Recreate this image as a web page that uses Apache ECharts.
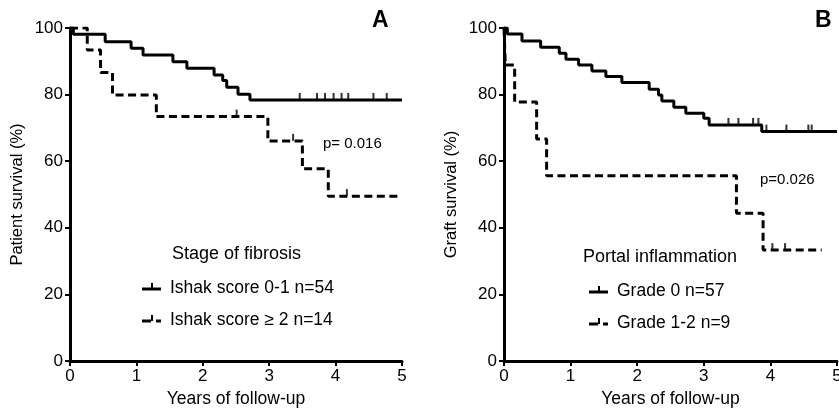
<!DOCTYPE html>
<html><head><meta charset="utf-8">
<script src="https://cdn.jsdelivr.net/npm/echarts@6/dist/echarts.min.js"></script>
<style>html,body{margin:0;padding:0;background:#fff}#c{width:839px;height:411px}</style>
</head><body><div id="c"></div>
<script>
// ---- data ----
const xTicks = [0, 1, 2, 3, 4, 5];
const yTicks = [0, 20, 40, 60, 80, 100];

// Panel A: Stage of fibrosis
const fibLowTimes = [0, 0.05, 0.53, 0.92, 1.10, 1.55, 1.76, 2.17, 2.30, 2.36, 2.53, 2.71, 5.0];
const fibLowSurv  = [100, 98.1, 95.9, 93.9, 91.9, 89.9, 87.9, 85.9, 84.2, 82.2, 80.1, 78.4, 78.4];
const fibLowCensorTimes = [3.46, 3.72, 3.84, 3.97, 4.09, 4.19, 4.57, 4.77];
const fibLowCensorSurv  = [78.4, 78.4, 78.4, 78.4, 78.4, 78.4, 78.4, 78.4];

const fibHighTimes = [0, 0.26, 0.46, 0.64, 1.30, 2.98, 3.50, 3.89, 4.94];
const fibHighSurv  = [100, 93.4, 86.6, 79.9, 73.4, 66.1, 57.7, 49.5, 49.5];
const fibHighCensorTimes = [2.51, 3.36, 4.17];
const fibHighCensorSurv  = [73.4, 66.1, 49.5];

// Panel B: Portal inflammation
const grade0Times = [0, 0.05, 0.27, 0.55, 0.83, 0.93, 1.12, 1.32, 1.53, 1.77, 2.18, 2.32, 2.37, 2.55, 2.73, 3.00, 3.08, 3.87, 5.0];
const grade0Surv  = [100, 98.2, 96.1, 94.2, 92.4, 90.6, 88.9, 87.1, 85.4, 83.6, 81.6, 79.9, 78.1, 76.2, 74.4, 72.9, 70.9, 68.9, 68.9];
const grade0CensorTimes = [3.37, 3.52, 3.74, 3.82, 3.94, 4.24, 4.57, 4.62];
const grade0CensorSurv  = [70.9, 70.9, 70.9, 70.9, 68.9, 68.9, 68.9, 68.9];

const grade12Times = [0, 0.02, 0.16, 0.49, 0.64, 3.49, 3.89, 4.77];
const grade12Surv  = [100, 88.9, 77.8, 66.7, 55.6, 44.4, 33.3, 33.3];
const grade12CensorTimes = [4.03, 4.22];
const grade12CensorSurv  = [33.3, 33.3];

const panelLabels = ['A', 'B'];
const pValues = ['p= 0.016', 'p=0.026'];
const yNames = ['Patient survival (%)', 'Graft survival (%)'];
const xName = 'Years of follow-up';
const legendTitles = ['Stage of fibrosis', 'Portal inflammation'];
const legendNames = [['Ishak score 0-1 n=54', 'Ishak score \u2265 2 n=14'], ['Grade 0 n=57', 'Grade 1-2 n=9']];

// ---- chart ----
const FONT = "'Liberation Sans', Arial, sans-serif";
const zip = (a, b) => a.map((v, i) => [v, b[i]]);

function xAxis(gi) {
  return {
    type: 'value', gridIndex: gi, min: xTicks[0], max: xTicks[xTicks.length - 1], interval: 1,
    name: xName, nameLocation: 'middle', nameGap: 29,
    nameTextStyle: { color: '#000', fontSize: 17.5, fontFamily: FONT, verticalAlign: 'top' },
    axisLine: { lineStyle: { color: '#000', width: 3 } },
    axisTick: { length: 5, lineStyle: { color: '#000', width: 2 } },
    axisLabel: { color: '#000', fontSize: 17, fontFamily: FONT, margin: 7 },
    splitLine: { show: false }
  };
}
function yAxis(gi) {
  return {
    type: 'value', gridIndex: gi, min: yTicks[0], max: yTicks[yTicks.length - 1], interval: 20,
    name: yNames[gi], nameLocation: 'middle', nameGap: 44,
    nameTextStyle: { color: '#000', fontSize: 16.5, fontFamily: FONT },
    axisLine: { show: true, lineStyle: { color: '#000', width: 3 } },
    axisTick: { show: true, length: 5, lineStyle: { color: '#000', width: 2 } },
    axisLabel: { color: '#000', fontSize: 17, fontFamily: FONT, margin: 7 },
    splitLine: { show: false }
  };
}
function km(gi, t, s, dashed) {
  return {
    type: 'line', xAxisIndex: gi, yAxisIndex: gi, step: 'end', showSymbol: false, silent: true,
    data: zip(t, s),
    lineStyle: { color: '#000', width: 3, type: dashed ? [8, 4.5] : 'solid' }
  };
}
function censor(gi, t, s) {
  return {
    type: 'scatter', xAxisIndex: gi, yAxisIndex: gi, symbol: 'rect', symbolSize: [2, 7],
    symbolOffset: [0, -3.5], itemStyle: { color: '#000' }, silent: true,
    data: zip(t, s)
  };
}
function legendGroup(titleX, x0, y0, gi) {
  const tx = { fill: '#000', fontSize: 17.5, fontFamily: FONT };
  return [
    { type: 'text', left: titleX, top: y0 - 11, style: Object.assign({ text: legendTitles[gi] }, { fill: '#000', fontSize: 18, fontFamily: FONT }) },
    // solid entry
    { type: 'line', shape: { x1: x0 - 28, y1: y0 + 33, x2: x0 - 9, y2: y0 + 33 }, style: { stroke: '#000', lineWidth: 3 } },
    { type: 'line', shape: { x1: x0 - 18, y1: y0 + 33, x2: x0 - 18, y2: y0 + 27 }, style: { stroke: '#000', lineWidth: 2 } },
    { type: 'text', left: x0, top: y0 + 23, style: Object.assign({ text: legendNames[gi][0] }, tx) },
    // dashed entry
    { type: 'line', shape: { x1: x0 - 28, y1: y0 + 65, x2: x0 - 19, y2: y0 + 65 }, style: { stroke: '#000', lineWidth: 3 } },
    { type: 'line', shape: { x1: x0 - 18, y1: y0 + 65, x2: x0 - 18, y2: y0 + 59 }, style: { stroke: '#000', lineWidth: 2 } },
    { type: 'line', shape: { x1: x0 - 14, y1: y0 + 65, x2: x0 - 9, y2: y0 + 65 }, style: { stroke: '#000', lineWidth: 3 } },
    { type: 'text', left: x0, top: y0 + 55, style: Object.assign({ text: legendNames[gi][1] }, tx) }
  ];
}

const chart = echarts.init(document.getElementById('c'), null, { renderer: 'canvas' });
chart.setOption({
  animation: false,
  backgroundColor: '#fff',
  grid: [
    { left: 70, top: 28, width: 332, height: 333, outerBoundsMode: 'none', containLabel: false },
    { left: 504, top: 28, width: 333, height: 333, outerBoundsMode: 'none', containLabel: false }
  ],
  xAxis: [xAxis(0), xAxis(1)],
  yAxis: [yAxis(0), yAxis(1)],
  series: [
    km(0, fibLowTimes, fibLowSurv, false),
    km(0, fibHighTimes, fibHighSurv, true),
    censor(0, fibLowCensorTimes, fibLowCensorSurv),
    censor(0, fibHighCensorTimes, fibHighCensorSurv),
    km(1, grade0Times, grade0Surv, false),
    km(1, grade12Times, grade12Surv, true),
    censor(1, grade0CensorTimes, grade0CensorSurv),
    censor(1, grade12CensorTimes, grade12CensorSurv)
  ],
  graphic: [
    { type: 'text', left: 372, top: 9, style: { text: panelLabels[0], fill: '#000', fontSize: 23, fontWeight: 'bold', fontFamily: FONT } },
    { type: 'text', left: 815, top: 9, style: { text: panelLabels[1], fill: '#000', fontSize: 23, fontWeight: 'bold', fontFamily: FONT } },
    { type: 'text', left: 323, top: 136, style: { text: pValues[0], fill: '#000', fontSize: 15, fontFamily: FONT } },
    { type: 'text', left: 760, top: 172, style: { text: pValues[1], fill: '#000', fontSize: 15, fontFamily: FONT } }
  ].concat(legendGroup(172, 170, 256, 0), legendGroup(583, 617, 259, 1))
});
</script>
</body></html>
